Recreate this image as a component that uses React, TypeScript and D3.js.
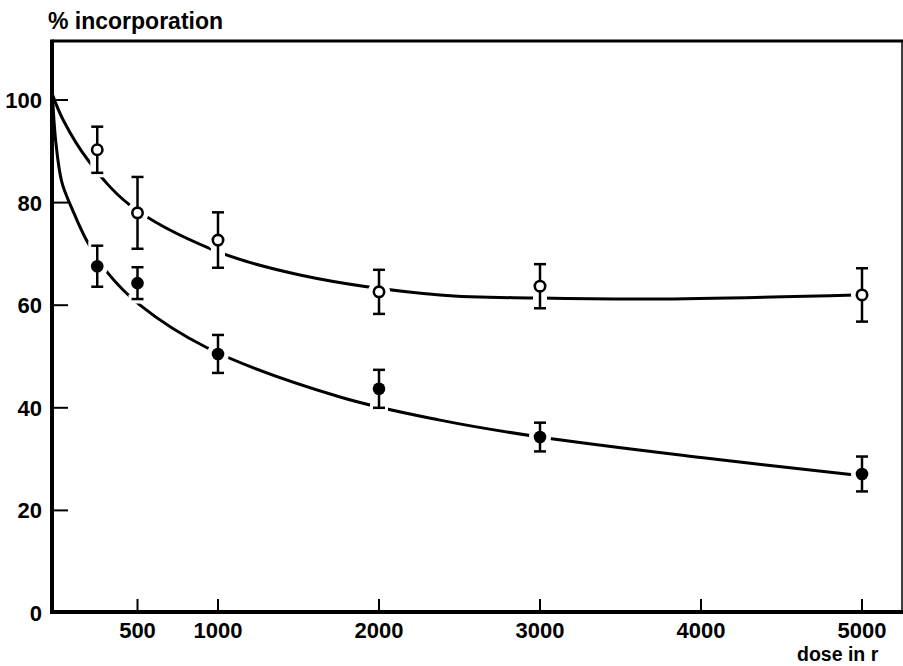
import React from "react";
import * as d3 from "d3";

// Data
const doses = [250, 500, 1000, 2000, 3000, 5000];
const openMean = [90.3, 78.0, 72.7, 62.6, 63.7, 62.0];
const openErr = [4.5, 7.0, 5.4, 4.3, 4.3, 5.2];
const filledMean = [67.6, 64.3, 50.5, 43.7, 34.3, 27.1];
const filledErr = [4.0, 3.1, 3.7, 3.7, 2.8, 3.4];

// fitted curves
const openFitDose = [-28, 40, 192, 453, 969, 1509, 2379, 3000, 3700, 4957];
const openFitVal = [101, 96, 88.3, 79.5, 70.8, 65.9, 62.0, 61.4, 61.2, 62.0];
const filledFitDose = [-28, -8, 30, 99, 186, 310, 516, 932, 1758, 2379, 3000, 4000, 4957];
const filledFitVal = [101, 92, 84, 78.4, 72.5, 66.5, 60.0, 51.7, 42.1, 37.6, 34.3, 30.3, 26.9];

const xTicks = [500, 1000, 2000, 3000, 4000, 5000];
const yTicks = [0, 20, 40, 60, 80, 100];
const xTitle = "dose in r";
const yTitle = "% incorporation";

const W = 903;
const H = 666;

export default function App() {
  const x = d3.scaleLinear().domain([0, 5000]).range([57, 862]);
  const y = d3.scaleLinear().domain([0, 100]).range([613, 100]);
  const axisX = 52;
  const axisY = 612;
  const topY = 41;

  const line = d3
    .line<[number, number]>()
    .x((d) => x(d[0]))
    .y((d) => y(d[1]))
    .curve(d3.curveCatmullRom.alpha(0.5));

  const openPts = openFitDose.map((d, i) => [d, openFitVal[i]] as [number, number]);
  const filledPts = filledFitDose.map((d, i) => [d, filledFitVal[i]] as [number, number]);

  const font = "'Liberation Sans', Arial, sans-serif";
  const series = [
    { mean: openMean, err: openErr, open: true },
    { mean: filledMean, err: filledErr, open: false },
  ];
  const cap = 6;

  return (
    <svg
      width={W}
      height={H}
      style={{ position: "absolute", left: 0, top: 0, background: "white" }}
    >
      <rect x={0} y={0} width={W} height={H} fill="white" />
      {/* frame */}
      <line x1={axisX} y1={topY} x2={W} y2={topY} stroke="black" strokeWidth={3} />
      <line x1={902} y1={topY} x2={902} y2={axisY} stroke="black" strokeWidth={1.5} />
      {/* curves */}
      <path d={line(openPts) || ""} fill="none" stroke="black" strokeWidth={3} />
      <path d={line(filledPts) || ""} fill="none" stroke="black" strokeWidth={3} />
      {/* halos */}
      {series.map((s, si) =>
        doses.map((d, i) => {
          const cx = x(d);
          const top = y(s.mean[i] + s.err[i]);
          const bot = y(s.mean[i] - s.err[i]);
          return (
            <g key={`h${si}-${i}`}>
              <line x1={cx} y1={top} x2={cx} y2={bot} stroke="white" strokeWidth={14} />
              <line x1={cx - cap - 3} y1={top} x2={cx + cap + 3} y2={top} stroke="white" strokeWidth={9} />
              <line x1={cx - cap - 3} y1={bot} x2={cx + cap + 3} y2={bot} stroke="white" strokeWidth={9} />
              <circle cx={cx} cy={y(s.mean[i])} r={11} fill="white" />
            </g>
          );
        })
      )}
      {/* error bars and markers */}
      {series.map((s, si) =>
        doses.map((d, i) => {
          const cx = x(d);
          const top = y(s.mean[i] + s.err[i]);
          const bot = y(s.mean[i] - s.err[i]);
          return (
            <g key={`m${si}-${i}`}>
              <line x1={cx} y1={top} x2={cx} y2={bot} stroke="black" strokeWidth={2.5} />
              <line x1={cx - cap} y1={top} x2={cx + cap} y2={top} stroke="black" strokeWidth={2.5} />
              <line x1={cx - cap} y1={bot} x2={cx + cap} y2={bot} stroke="black" strokeWidth={2.5} />
              {s.open ? (
                <circle cx={cx} cy={y(s.mean[i])} r={5.2} fill="white" stroke="black" strokeWidth={2.6} />
              ) : (
                <circle cx={cx} cy={y(s.mean[i])} r={6.3} fill="black" />
              )}
            </g>
          );
        })
      )}
      {/* axes */}
      <line x1={axisX} y1={topY - 1.5} x2={axisX} y2={axisY + 2} stroke="black" strokeWidth={4} />
      <line x1={axisX - 2} y1={axisY} x2={W} y2={axisY} stroke="black" strokeWidth={4} />
      {yTicks.slice(1).map((t) => (
        <line key={`yt${t}`} x1={axisX} y1={y(t)} x2={axisX + 16} y2={y(t)} stroke="black" strokeWidth={2} />
      ))}
      {xTicks.map((t) => (
        <line key={`xt${t}`} x1={x(t)} y1={axisY} x2={x(t)} y2={axisY - 13} stroke="black" strokeWidth={2} />
      ))}
      {yTicks.map((t) => (
        <text
          key={`yl${t}`}
          x={42}
          y={y(t) + 8}
          textAnchor="end"
          fontFamily={font}
          fontWeight="bold"
          fontSize={22}
        >
          {t}
        </text>
      ))}
      {xTicks.map((t) => (
        <text
          key={`xl${t}`}
          x={x(t)}
          y={638}
          textAnchor="middle"
          fontFamily={font}
          fontWeight="bold"
          fontSize={22}
        >
          {t}
        </text>
      ))}
      <text x={48} y={29} fontFamily={font} fontWeight="bold" fontSize={23}>
        {yTitle}
      </text>
      <text x={797} y={661} fontFamily={font} fontWeight="bold" fontSize={19.5}>
        {xTitle}
      </text>
    </svg>
  );
}
